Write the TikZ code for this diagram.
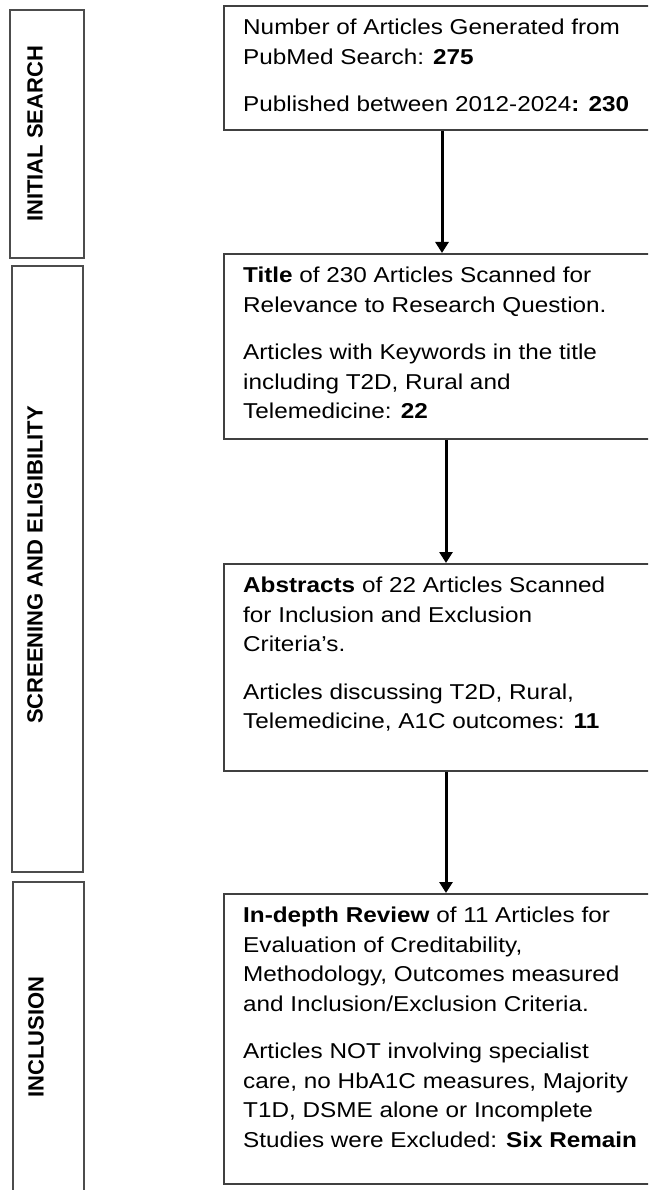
\documentclass[tikz,border=0pt]{standalone}
\usepackage{fontspec}
\setmainfont{Liberation Sans}[FakeStretch=1.13]
\newfontfamily\stagefont{Liberation Sans}
\usepackage{tikz}
\usetikzlibrary{positioning,arrows.meta}

\begin{document}
\begin{tikzpicture}[
  x=1pt, y=-1pt,
  stage/.style={draw=black!70, line width=2.2pt, rectangle, anchor=north west, inner sep=0pt},
  stagelbl/.style={rotate=90, font=\stagefont\bfseries\fontsize{22}{26}\selectfont, inner sep=0pt},
  stepbox/.style={draw=black!75, line width=1.8pt, rectangle, anchor=north west, minimum width=440pt, inner sep=0pt},
  steptext/.style={align=left, inner sep=0pt, font=\fontsize{21.5}{29.5}\selectfont},
  arr/.style={-{Triangle[length=11pt,width=13pt]}, line width=3pt},
]
  \useasboundingbox (0,0) rectangle (648,1190);
  \clip (0,0) rectangle (648,1190);

  \node[stage, minimum width=74pt, minimum height=248pt] (initial) at (9,9) {};
  \node[stage, minimum width=71pt, minimum height=606pt] (screening) at (11,265) {};
  \node[stage, minimum width=71pt, minimum height=312pt] (inclusion) at (12,881) {};
  \node[stagelbl] (initiallbl) at (35,134) {INITIAL SEARCH};
  \node[stagelbl] (screeninglbl) at (35,565) {SCREENING AND ELIGIBILITY};
  \node[stagelbl] (inclusionlbl) at (36,1037) {INCLUSION};

  \node[stepbox, minimum height=124pt] (search) at (223,5) {};
  \node[stepbox, minimum height=185pt] (title) at (223,253) {};
  \node[stepbox, minimum height=207pt] (abstract) at (223,563) {};
  \node[stepbox, minimum height=290pt] (review) at (223,893) {};

  \node[steptext, below right=14pt and 20pt of search.north west] (searchtxt)
    {Number of Articles Generated from\\PubMed Search: \textbf{275}\\[18pt]Published between 2012-2024\textbf{: 230}};
  \node[steptext, below right=14pt and 20pt of title.north west] (titletxt)
    {\textbf{Title} of 230 Articles Scanned for\\Relevance to Research Question.\\[18pt]Articles with Keywords in the title\\including T2D, Rural and\\Telemedicine: \textbf{22}};
  \node[steptext, below right=14pt and 20pt of abstract.north west] (abstracttxt)
    {\textbf{Abstracts} of 22 Articles Scanned\\for Inclusion and Exclusion\\Criteria’s.\\[18pt]Articles discussing T2D, Rural,\\Telemedicine, A1C outcomes: \textbf{11}};
  \node[steptext, below right=14pt and 20pt of review.north west] (reviewtxt)
    {\textbf{In-depth Review} of 11 Articles for\\Evaluation of Creditability,\\Methodology, Outcomes measured\\and Inclusion/Exclusion Criteria.\\[18pt]Articles NOT involving specialist\\care, no HbA1C measures, Majority\\T1D, DSME alone or Incomplete\\Studies were Excluded: \textbf{Six Remain}};

  \draw[arr] ([xshift=219pt]search.south west) -- ([xshift=219pt]title.north west);
  \draw[arr] ([xshift=223pt]title.south west) -- ([xshift=223pt]abstract.north west);
  \draw[arr] ([xshift=223pt]abstract.south west) -- ([xshift=223pt]review.north west);
\end{tikzpicture}
\end{document}
